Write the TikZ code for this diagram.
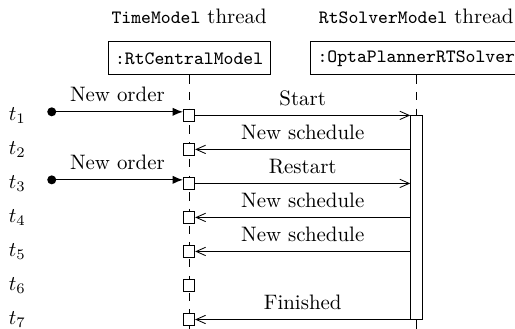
\documentclass[tikz,border=0pt]{standalone}
\usepackage{tikz}
\usetikzlibrary{positioning, arrows.meta}
\newcommand{\code}[1]{{\small\ttfamily #1}}
\tikzset{
        node distance=0.368cm, % gap between two calls on a lifeline
        object/.style={draw, font=\small\ttfamily, minimum height=0.555cm},
        call box/.style={draw, fill=white, minimum size=0.19cm, inner sep=0pt},
        activation/.style={draw, fill=white, minimum width=0.19cm, minimum height=3.43cm, inner sep=0pt},
        lifeline/.style={dash pattern=on 4pt off 4pt},
        source/.style={circle, fill, minimum size=4.3pt, inner sep=0pt},
        msg/.style={-{Straight Barb[length=4.5pt,width=4pt]}},
        event/.style={semithick, -{Latex[length=5pt,width=4pt]}},
        msg label/.style={above=1pt, midway},
    }

\begin{document}
\begin{tikzpicture}
    \useasboundingbox (0,0) rectangle (8.66,-5.53);
    \coordinate (bottom) at (0,-5.53);
    \coordinate (ticks) at (0.29,0);
    \coordinate (sources) at (0.87,0);
    % threads and objects
    \node (tm) at (3.18,-0.27) {\code{TimeModel} thread};
    \node (rt) at (7.00,-0.27) {\code{RtSolverModel} thread};
    \node [object] (central) at (3.18,-0.98) {:RtCentralModel};
    \node [object] (solver) at (7.00,-0.98) {:OptaPlannerRTSolver};
    \draw [lifeline] (central.south) -- (central.south |- bottom);
    % calls on the central model
    \node [call box] (c1) at (3.18,-1.94) {};
    \node [call box, below=of c1] (c2) {};
    \node [call box, below=of c2] (c3) {};
    \node [call box, below=of c3] (c4) {};
    \node [call box, below=of c4] (c5) {};
    \node [call box, below=of c5] (c6) {};
    \node [call box, below=of c6] (c7) {};
    % solver activation
    \node [activation, anchor=north] (act) at (solver.south |- c1) {};
    \draw [lifeline] (solver.south) -- (act.north);
    \draw [lifeline] (act.south) -- (act.south |- bottom);
    % time steps
    \node (t1) at (ticks |- c1) {$t_1$};
    \node (t2) at (ticks |- c2) {$t_2$};
    \node (t3) at (ticks |- c3) {$t_3$};
    \node (t4) at (ticks |- c4) {$t_4$};
    \node (t5) at (ticks |- c5) {$t_5$};
    \node (t6) at (ticks |- c6) {$t_6$};
    \node (t7) at (ticks |- c7) {$t_7$};
    % incoming orders
    \node [source, yshift=0.06cm] (o1) at (sources |- c1) {};
    \node [source, yshift=0.06cm] (o3) at (sources |- c3) {};
    \draw [event] (o1.center) -- (o1 -| c1.west) node [msg label] {New order};
    \draw [event] (o3.center) -- (o3 -| c3.west) node [msg label] {New order};
    % messages
    \draw [msg] (c1.east) -- (c1 -| act.west) node [msg label] {Start};
    \draw [msg] (c2 -| act.west) -- (c2.east) node [msg label] {New schedule};
    \draw [msg] (c3.east) -- (c3 -| act.west) node [msg label] {Restart};
    \draw [msg] (c4 -| act.west) -- (c4.east) node [msg label] {New schedule};
    \draw [msg] (c5 -| act.west) -- (c5.east) node [msg label] {New schedule};
    \draw [msg] (c7 -| act.west) -- (c7.east) node [msg label] {Finished};
\end{tikzpicture}
\end{document}
